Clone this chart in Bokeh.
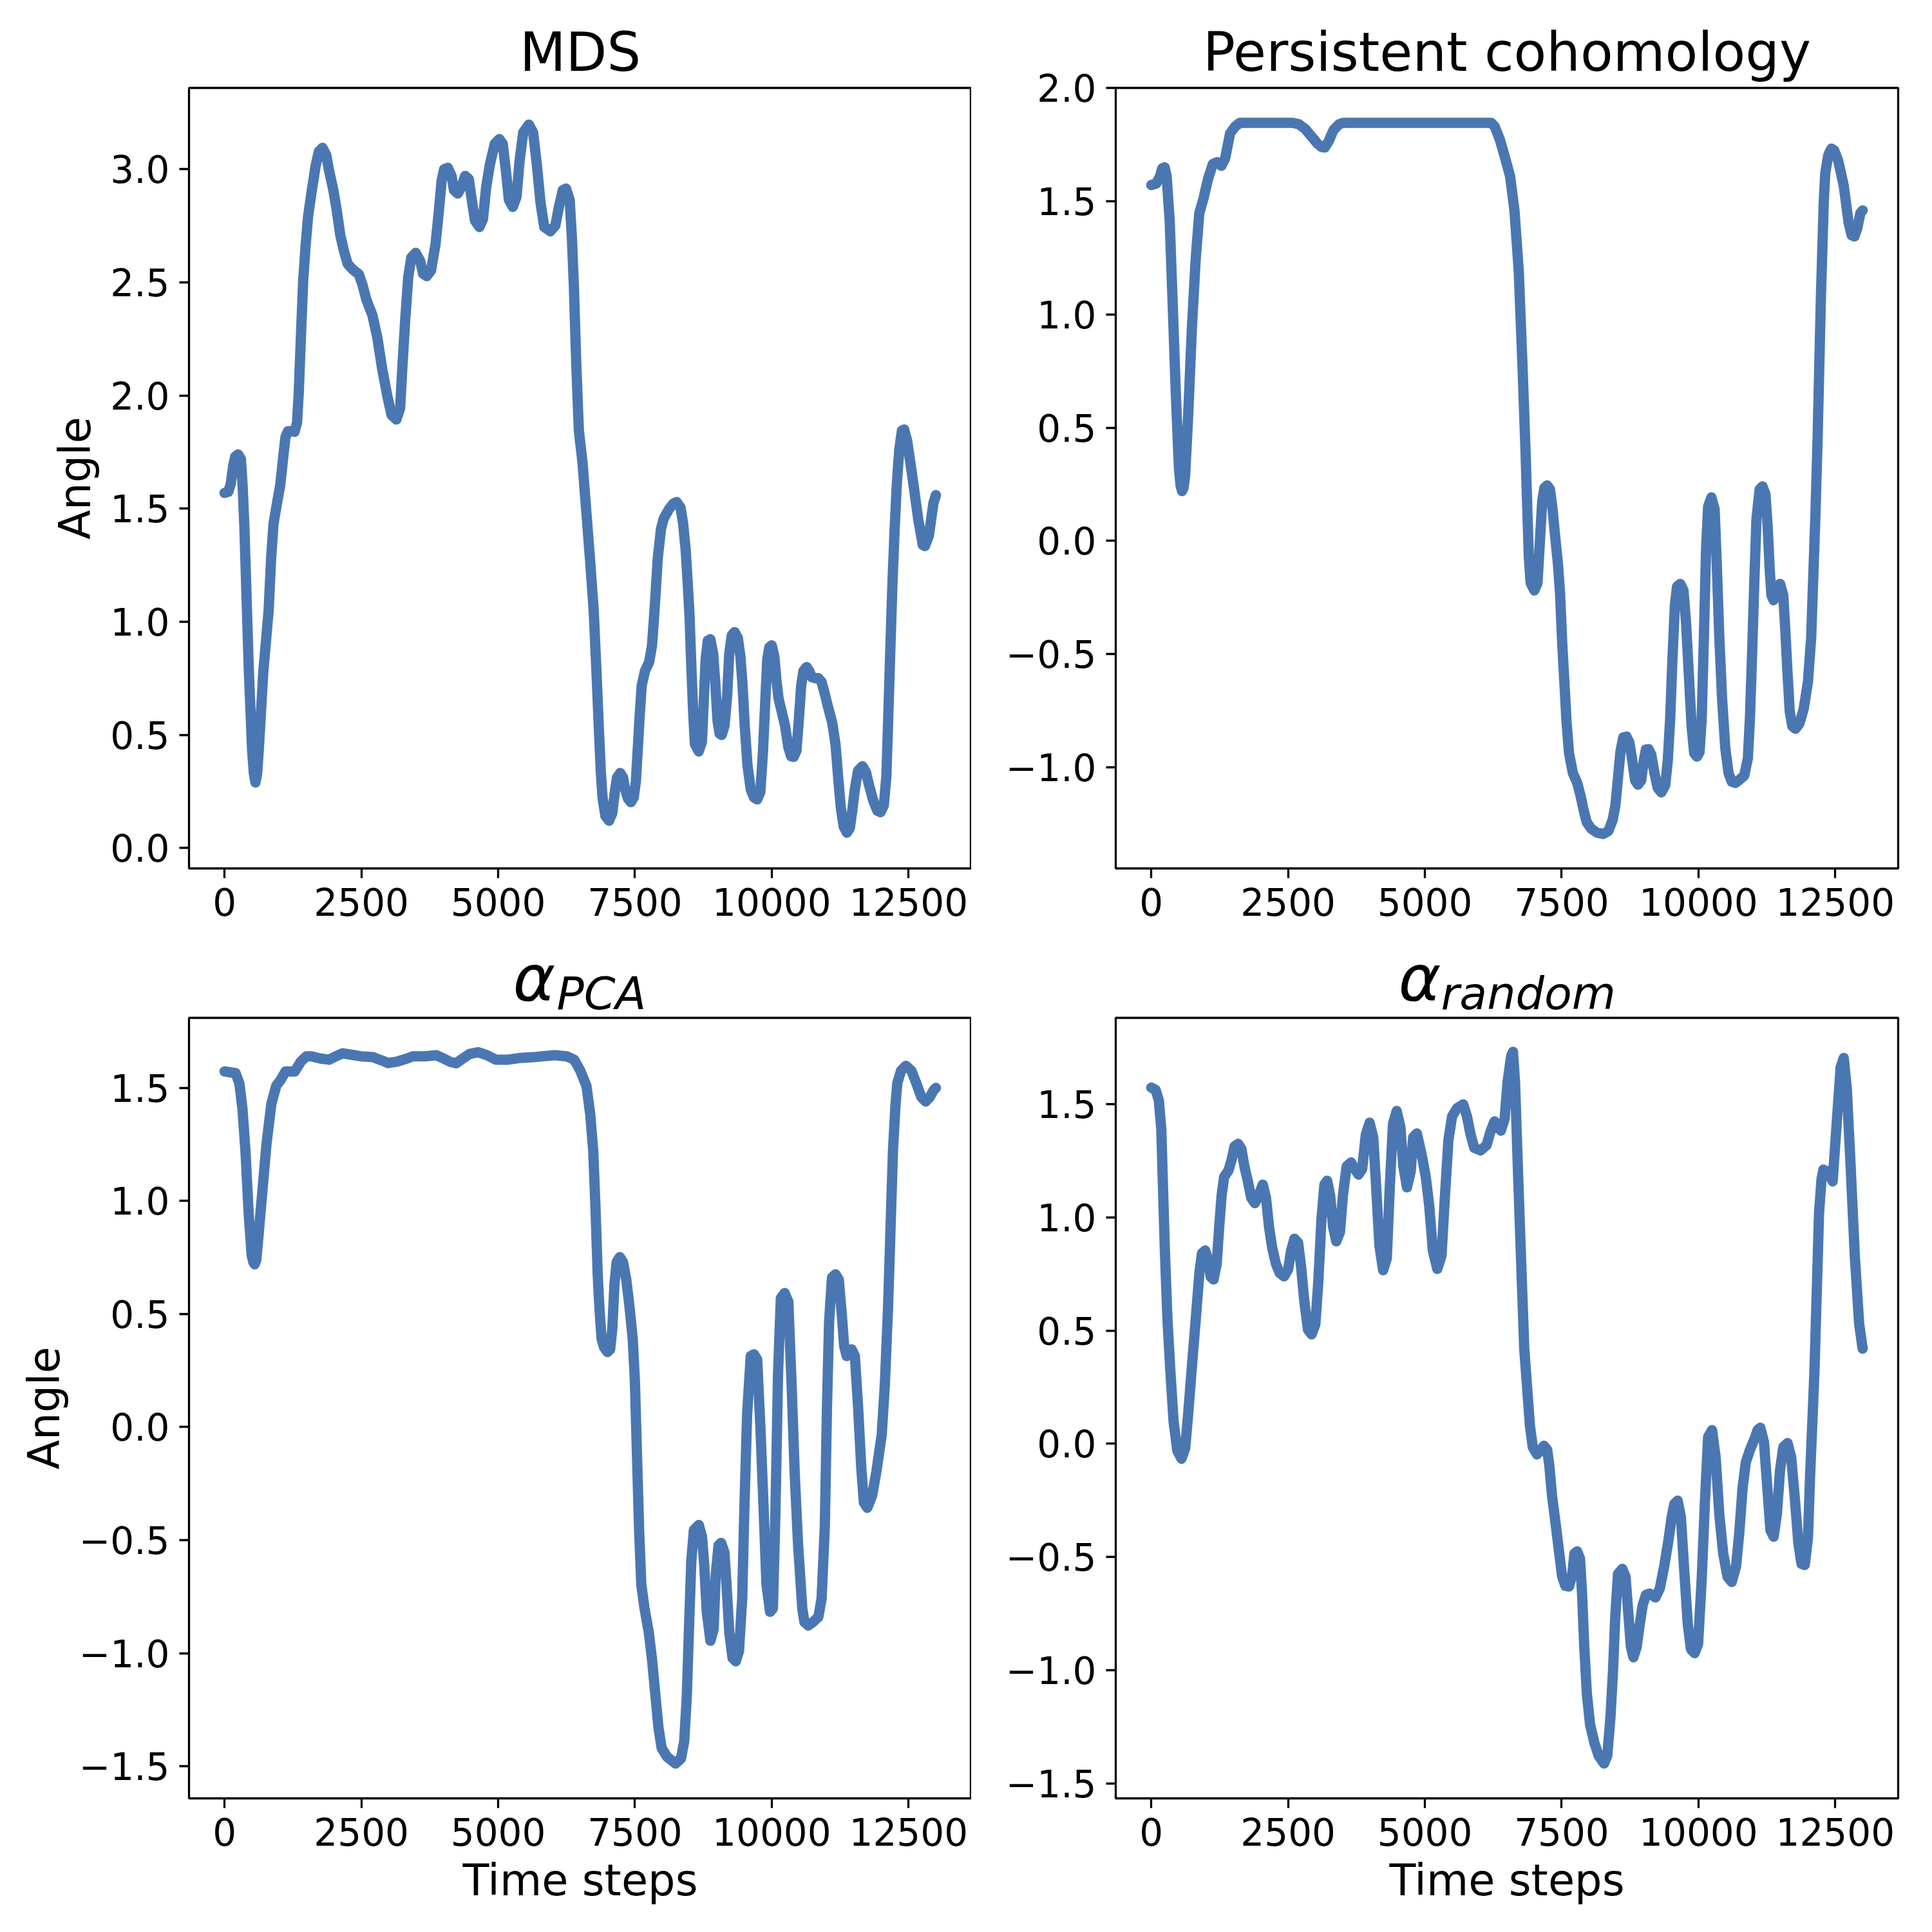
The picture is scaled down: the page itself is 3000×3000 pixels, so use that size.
from bokeh.embed import file_html
from bokeh.layouts import gridplot
from bokeh.models import FixedTicker, Range1d, Title
from bokeh.plotting import figure
from bokeh.resources import INLINE

# (time step, angle)
mds_points = [(0, 1.57), (68, 1.575), (113, 1.61), (158, 1.69), (194, 1.73), (248, 1.74), (298, 1.72), (330, 1.60), (362, 1.42), (398, 1.136), (444, .78), (504, .43), (535, .33), (564, .29), (595, .33), (624, .43), (708, .78), (805, 1.05), (850, 1.278), (895, 1.434), (954, 1.519), (1017, 1.604), (1067, 1.717), (1112, 1.816), (1157, 1.842), (1225, 1.844), (1279, 1.84), (1324, 1.88), (1356, 2.015), (1392, 2.241), (1437, 2.511), (1482, 2.667), (1527, 2.794), (1595, 2.908), (1663, 3.014), (1722, 3.078), (1789, 3.095), (1857, 3.064), (1911, 2.993), (1988, 2.908), (2047, 2.823), (2115, 2.709), (2183, 2.638), (2250, 2.582), (2341, 2.558), (2454, 2.536), (2521, 2.489), (2589, 2.426), (2702, 2.355), (2792, 2.256), (2883, 2.114), (2973, 2.0), (3050, 1.915), (3140, 1.894), (3208, 1.944), (3253, 2.142), (3303, 2.341), (3357, 2.525), (3412, 2.61), (3493, 2.631), (3574, 2.596), (3628, 2.539), (3696, 2.528), (3773, 2.553), (3854, 2.667), (3913, 2.808), (3967, 2.95), (4012, 3.0), (4080, 3.007), (4148, 2.971), (4193, 2.908), (4261, 2.893), (4329, 2.922), (4396, 2.971), (4464, 2.957), (4509, 2.879), (4577, 2.773), (4658, 2.745), (4722, 2.78), (4781, 2.922), (4848, 3.021), (4938, 3.113), (5020, 3.134), (5083, 3.113), (5142, 2.993), (5196, 2.865), (5268, 2.834), (5336, 2.879), (5390, 3.035), (5458, 3.163), (5562, 3.198), (5639, 3.163), (5707, 3.021), (5775, 2.851), (5842, 2.745), (5955, 2.726), (6045, 2.752), (6113, 2.837), (6181, 2.908), (6240, 2.915), (6307, 2.865), (6348, 2.695), (6384, 2.482), (6429, 2.128), (6475, 1.845), (6542, 1.703), (6610, 1.49), (6678, 1.278), (6746, 1.051), (6800, .76), (6840, .53), (6875, .34), (6909, .22), (6960, .142), (7027, .121), (7085, .154), (7132, .248), (7172, .312), (7231, .332), (7282, .312), (7321, .259), (7372, .218), (7427, .203), (7478, .224), (7517, .295), (7548, .424), (7584, .577), (7623, .718), (7682, .782), (7760, .823), (7811, .894), (7843, 1.0), (7878, 1.129), (7917, 1.282), (7976, 1.411), (8027, 1.458), (8125, 1.499), (8203, 1.523), (8262, 1.529), (8333, 1.505), (8380, 1.435), (8427, 1.317), (8466, 1.164), (8498, 1.023), (8529, .812), (8564, .6), (8596, .459), (8666, .427), (8725, .471), (8753, .624), (8792, .835), (8831, .917), (8878, .923), (8929, .859), (8968, .73), (9008, .565), (9047, .506), (9086, .50), (9137, .541), (9184, .671), (9223, .859), (9270, .941), (9321, .955), (9380, .929), (9427, .847), (9467, .718), (9506, .541), (9557, .365), (9616, .259), (9675, .224), (9733, .215), (9792, .248), (9839, .424), (9879, .635), (9918, .835), (9957, .888), (10000, .896), (10047, .847), (10086, .741), (10126, .659), (10185, .60), (10243, .541), (10302, .447), (10353, .406), (10400, .403), (10451, .43), (10498, .577), (10538, .718), (10577, .782), (10636, .80), (10687, .782), (10734, .755), (10793, .751), (10852, .751), (10910, .735), (10969, .682), (11028, .624), (11106, .553), (11165, .459), (11216, .306), (11263, .177), (11314, .095), (11373, .068), (11428, .089), (11471, .165), (11518, .259), (11577, .342), (11656, .362), (11722, .336), (11773, .283), (11852, .212), (11930, .165), (11989, .159), (12048, .189), (12095, .318), (12126, .553), (12166, .87), (12205, 1.164), (12244, 1.399), (12283, 1.599), (12330, 1.76), (12379, 1.845), (12420, 1.85), (12475, 1.80), (12571, 1.64), (12679, 1.45), (12760, 1.34), (12799, 1.335), (12871, 1.38), (12955, 1.525), (13000, 1.56)]

pers_points = [(0, 1.572), (90, 1.578), (157, 1.61), (200, 1.645), (245, 1.65), (281, 1.61), (337, 1.41), (394, 1.025), (450, .64), (506, .316), (535, .245), (562, .22), (590, .235), (619, .29), (675, .56), (742, .94), (810, 1.24), (877, 1.447), (956, 1.515), (1035, 1.597), (1125, 1.665), (1204, 1.673), (1282, 1.657), (1350, 1.69), (1440, 1.80), (1530, 1.83), (1620, 1.847), (2587, 1.847), (2700, 1.84), (2812, 1.82), (2925, 1.787), (3037, 1.755), (3110, 1.74), (3170, 1.738), (3240, 1.765), (3330, 1.815), (3431, 1.84), (3510, 1.847), (6210, 1.847), (6277, 1.83), (6367, 1.775), (6468, 1.69), (6558, 1.61), (6637, 1.46), (6716, 1.19), (6783, .78), (6839, .40), (6875, .119), (6901, -.077), (6933, -.186), (7000, -.219), (7058, -.186), (7105, .01), (7144, .174), (7184, .234), (7235, .245), (7286, .228), (7333, .141), (7380, .021), (7431, -.099), (7470, -.23), (7509, -.448), (7549, -.622), (7588, -.797), (7635, -.939), (7705, -1.026), (7784, -1.069), (7843, -1.124), (7902, -1.19), (7960, -1.244), (8039, -1.271), (8137, -1.288), (8255, -1.295), (8353, -1.282), (8431, -1.233), (8482, -1.168), (8529, -1.048), (8576, -.928), (8627, -.868), (8686, -.865), (8737, -.89), (8784, -.96), (8843, -1.059), (8894, -1.077), (8953, -1.059), (9000, -.971), (9039, -.922), (9086, -.92), (9137, -.944), (9196, -1.026), (9255, -1.091), (9322, -1.111), (9392, -1.08), (9439, -.971), (9483, -.786), (9522, -.535), (9569, -.284), (9608, -.202), (9667, -.19), (9726, -.219), (9773, -.361), (9824, -.59), (9875, -.819), (9922, -.939), (9973, -.953), (10020, -.933), (10059, -.786), (10099, -.426), (10138, -.044), (10177, .152), (10236, .192), (10295, .141), (10334, -.099), (10381, -.426), (10432, -.699), (10491, -.917), (10550, -1.026), (10609, -1.064), (10675, -1.069), (10746, -1.056), (10836, -1.037), (10903, -.96), (10942, -.775), (10981, -.491), (11020, -.186), (11060, .097), (11118, .228), (11169, .241), (11224, .206), (11264, .065), (11303, -.131), (11334, -.24), (11373, -.262), (11432, -.219), (11491, -.19), (11550, -.24), (11589, -.404), (11629, -.59), (11668, -.753), (11715, -.819), (11774, -.83), (11844, -.808), (11923, -.742), (12001, -.622), (12060, -.426), (12099, -.153), (12138, .119), (12178, .46), (12238, 1.08), (12290, 1.5), (12317, 1.624), (12373, 1.705), (12430, 1.733), (12480, 1.725), (12553, 1.68), (12654, 1.57), (12744, 1.406), (12800, 1.35), (12850, 1.345), (12902, 1.38), (12958, 1.447), (13000, 1.46)]

pca_points = [(0, 1.573), (202, 1.565), (270, 1.52), (326, 1.41), (382, 1.22), (439, .95), (495, .76), (525, .73), (551, .72), (580, .74), (607, .81), (686, 1.03), (765, 1.25), (855, 1.43), (945, 1.51), (1024, 1.535), (1114, 1.573), (1282, 1.573), (1395, 1.617), (1496, 1.64), (1586, 1.64), (1755, 1.63), (1912, 1.625), (2036, 1.64), (2160, 1.653), (2317, 1.647), (2486, 1.64), (2711, 1.636), (2857, 1.623), (2992, 1.61), (3161, 1.617), (3307, 1.628), (3442, 1.64), (3667, 1.64), (3870, 1.645), (4004, 1.63), (4139, 1.614), (4229, 1.609), (4342, 1.628), (4477, 1.65), (4634, 1.658), (4792, 1.645), (4961, 1.625), (5186, 1.625), (5411, 1.633), (5636, 1.636), (5804, 1.64), (6029, 1.645), (6254, 1.64), (6389, 1.625), (6502, 1.576), (6614, 1.508), (6682, 1.385), (6738, 1.22), (6780, .96), (6819, .676), (6851, .525), (6890, .39), (6937, .352), (6996, .332), (7047, .344), (7086, .435), (7125, .631), (7165, .729), (7223, .752), (7282, .729), (7341, .653), (7400, .533), (7459, .39), (7498, .209), (7537, -.123), (7576, -.455), (7616, -.696), (7675, -.802), (7753, -.908), (7812, -1.028), (7871, -1.179), (7930, -1.33), (7988, -1.42), (8086, -1.458), (8243, -1.488), (8341, -1.466), (8400, -1.39), (8447, -1.194), (8487, -.893), (8530, -.591), (8577, -.455), (8667, -.433), (8726, -.485), (8765, -.606), (8812, -.817), (8879, -.945), (8938, -.893), (8977, -.651), (9028, -.523), (9075, -.512), (9134, -.553), (9173, -.696), (9224, -.908), (9283, -1.021), (9342, -1.036), (9401, -.991), (9460, -.757), (9499, -.365), (9550, .058), (9616, .314), (9675, .322), (9734, .299), (9793, -.003), (9852, -.365), (9903, -.696), (9970, -.817), (10021, -.802), (10068, -.365), (10115, .239), (10166, .57), (10236, .593), (10303, .555), (10362, .193), (10421, -.214), (10480, -.515), (10558, -.802), (10597, -.862), (10668, -.877), (10754, -.862), (10852, -.84), (10911, -.757), (10970, -.44), (11009, .088), (11048, .465), (11100, .661), (11166, .676), (11225, .653), (11276, .51), (11323, .359), (11370, .314), (11460, .344), (11519, .314), (11578, .088), (11637, -.184), (11684, -.334), (11746, -.357), (11833, -.304), (11911, -.199), (12010, -.033), (12068, .193), (12127, .54), (12166, .842), (12215, 1.22), (12260, 1.42), (12294, 1.52), (12362, 1.576), (12452, 1.598), (12553, 1.576), (12643, 1.52), (12733, 1.46), (12812, 1.44), (12890, 1.46), (12958, 1.49), (13000, 1.5)]

rand_points = [(0, 1.572), (79, 1.562), (138, 1.516), (183, 1.388), (214, 1.132), (250, .841), (295, .551), (349, .318), (408, .097), (476, -.031), (552, -.066), (620, -.019), (678, .144), (746, .353), (813, .551), (881, .76), (926, .841), (985, .853), (1048, .806), (1084, .737), (1138, .725), (1196, .795), (1241, .958), (1286, 1.097), (1331, 1.178), (1412, 1.207), (1475, 1.26), (1520, 1.312), (1588, 1.324), (1647, 1.301), (1701, 1.225), (1768, 1.155), (1827, 1.085), (1894, 1.062), (1971, 1.103), (2038, 1.144), (2097, 1.085), (2151, .958), (2210, .865), (2277, .795), (2345, .754), (2426, .739), (2502, .771), (2556, .853), (2615, .905), (2683, .888), (2737, .783), (2795, .632), (2863, .504), (2930, .483), (2998, .527), (3052, .713), (3110, .992), (3164, 1.144), (3214, 1.161), (3268, 1.097), (3322, .958), (3381, .894), (3448, .934), (3502, 1.097), (3570, 1.225), (3651, 1.242), (3718, 1.213), (3786, 1.188), (3854, 1.213), (3921, 1.365), (3989, 1.417), (4056, 1.353), (4110, 1.132), (4169, .876), (4236, .766), (4304, .818), (4358, 1.132), (4417, 1.411), (4484, 1.469), (4552, 1.399), (4606, 1.225), (4673, 1.132), (4741, 1.202), (4786, 1.353), (4853, 1.37), (4935, 1.283), (5016, 1.179), (5079, 1.051), (5146, .853), (5227, .772), (5304, .83), (5362, 1.074), (5430, 1.341), (5498, 1.446), (5588, 1.481), (5700, 1.498), (5768, 1.446), (5835, 1.365), (5903, 1.306), (6016, 1.295), (6128, 1.318), (6196, 1.376), (6272, 1.423), (6331, 1.4), (6389, 1.382), (6457, 1.434), (6511, 1.597), (6578, 1.713), (6610, 1.73), (6648, 1.594), (6704, 1.185), (6760, .80), (6816, .42), (6882, .203), (6921, .077), (6972, -.015), (7050, -.047), (7117, -.026), (7176, -.009), (7235, -.026), (7274, -.095), (7325, -.232), (7392, -.358), (7450, -.472), (7509, -.587), (7568, -.627), (7635, -.63), (7694, -.575), (7733, -.484), (7784, -.475), (7835, -.507), (7874, -.667), (7913, -.896), (7960, -1.102), (8019, -1.239), (8098, -1.32), (8176, -1.377), (8274, -1.411), (8333, -1.377), (8392, -1.205), (8439, -.999), (8478, -.77), (8529, -.575), (8608, -.552), (8667, -.587), (8714, -.736), (8765, -.896), (8812, -.942), (8871, -.896), (8922, -.804), (8980, -.713), (9039, -.667), (9106, -.661), (9216, -.678), (9294, -.638), (9373, -.541), (9451, -.427), (9510, -.324), (9557, -.266), (9620, -.251), (9679, -.324), (9738, -.552), (9804, -.793), (9863, -.907), (9930, -.924), (9993, -.884), (10059, -.598), (10118, -.255), (10177, .031), (10248, .06), (10314, -.06), (10381, -.312), (10452, -.484), (10530, -.587), (10608, -.61), (10687, -.541), (10746, -.392), (10805, -.198), (10864, -.083), (10942, -.026), (11040, .031), (11079, .06), (11130, .071), (11197, .008), (11256, -.186), (11315, -.381), (11374, -.41), (11432, -.312), (11491, -.117), (11550, -.015), (11629, .003), (11695, -.06), (11766, -.255), (11825, -.438), (11883, -.53), (11942, -.535), (12001, -.415), (12040, -.14), (12080, .088), (12119, .317), (12204, 1.022), (12250, 1.17), (12283, 1.21), (12373, 1.2), (12452, 1.158), (12531, 1.43), (12598, 1.662), (12655, 1.703), (12711, 1.567), (12778, 1.24), (12857, .83), (12936, .531), (13000, .42)]

x_ticks = [0, 2500, 5000, 7500, 10000, 12500]
mds_ticks = [0.0, 0.5, 1.0, 1.5, 2.0, 2.5, 3.0]
mds_labels = ["0.0", "0.5", "1.0", "1.5", "2.0", "2.5", "3.0"]
pers_ticks = [-1.0, -0.5, 0.0, 0.5, 1.0, 1.5, 2.0]
pers_labels = ["\u22121.0", "\u22120.5", "0.0", "0.5", "1.0", "1.5", "2.0"]
alpha_ticks = [-1.5, -1.0, -0.5, 0.0, 0.5, 1.0, 1.5]
alpha_labels = ["\u22121.5", "\u22121.0", "\u22120.5", "0.0", "0.5", "1.0", "1.5"]

FONT = "DejaVu Sans"
BLUE = "#4a77b2"


def panel(points, y_range, ticks, labels, title=None, ylabel=None, xlabel=None, **borders):
    t, y = zip(*points)
    p = figure(frame_width=1215, frame_height=1212, output_backend="svg", toolbar_location=None,
               x_range=Range1d(-650, 13650), y_range=Range1d(*y_range), tools="", **borders)
    p.line(list(t), list(y), line_color=BLUE, line_width=16, line_cap="round", line_join="round")
    p.grid.visible = False
    p.outline_line_color = "black"
    p.outline_line_width = 3.3
    p.background_fill_color = "white"
    p.xaxis.ticker = FixedTicker(ticks=x_ticks)
    p.yaxis.ticker = FixedTicker(ticks=ticks)
    p.yaxis.major_label_overrides = dict(zip(ticks, labels))
    for ax in (p.xaxis[0], p.yaxis[0]):
        ax.axis_line_color = None
        ax.minor_tick_line_color = None
        ax.major_tick_in = 0
        ax.major_tick_out = 15
        ax.major_tick_line_width = 3.3
        ax.major_tick_line_color = "black"
        ax.major_label_standoff = 15
        ax.major_label_text_font = FONT
        ax.major_label_text_font_size = "58px"
        ax.major_label_text_color = "black"
        ax.axis_label_text_font = FONT
        ax.axis_label_text_font_size = "67px"
        ax.axis_label_text_font_style = "normal"
        ax.axis_label_text_color = "black"
        ax.axis_label_standoff = 12
    if xlabel:
        p.xaxis.axis_label = xlabel
    if ylabel:
        p.yaxis.axis_label = ylabel
    if title:
        p.title.text = title
        p.title.align = "center"
        p.title.text_font = FONT
        p.title.text_font_size = "83px"
        p.title.text_font_style = "normal"
        p.title.text_color = "black"
        p.title.standoff = 14
    return p


def math_title(p, sym_x, sub_x, sub):
    # two titles on one line: the symbol and its subscript
    p.add_layout(Title(text="\u03b1", align="left", offset=sym_x, standoff=6, text_font=FONT,
                       text_font_size="100px", text_font_style="italic", text_color="black"), "above")
    p.add_layout(Title(text=sub, align="left", offset=sub_x, standoff=-256, text_font=FONT,
                       text_font_size="70px", text_font_style="italic", text_color="black"), "above")


p1 = panel(mds_points, (-0.09, 3.36), mds_ticks, mds_labels, title="MDS", ylabel="Angle",
           min_border_left=293, min_border_right=0, min_border_top=136, min_border_bottom=102)
p2 = panel(pers_points, (-1.447, 2.001), pers_ticks, pers_labels, title="Persistent cohomology",
           min_border_left=224, min_border_right=44, min_border_top=136, min_border_bottom=102)
p3 = panel(pca_points, (-1.642, 1.81), alpha_ticks, alpha_labels, ylabel="Angle", xlabel="Time steps",
           min_border_left=293, min_border_right=0, min_border_top=130, min_border_bottom=200)
p4 = panel(rand_points, (-1.565, 1.88), alpha_ticks, alpha_labels, xlabel="Time steps",
           min_border_left=224, min_border_right=44, min_border_top=130, min_border_bottom=200)
math_title(p3, 503, 571, "PCA")
math_title(p4, 439, 505, "random")

grid = gridplot([[p1, p2], [p3, p4]], toolbar_location=None)
open("out.html", "w").write(file_html(grid, INLINE))
